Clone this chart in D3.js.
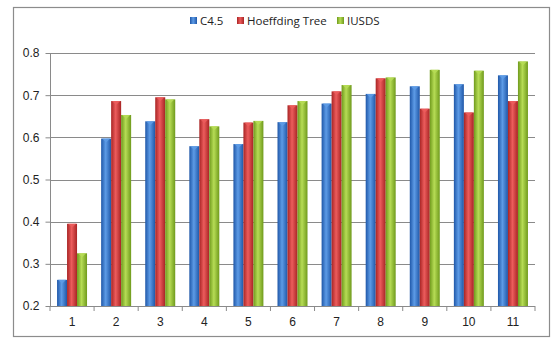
<!DOCTYPE html>
<html><head><meta charset="utf-8">
<script src="https://cdn.jsdelivr.net/npm/d3@7"></script>
<style>body{margin:0;background:#fff;}svg{display:block;font-family:"Open Sans","DejaVu Sans",sans-serif;}</style>
</head><body><svg id="c" width="559" height="346"></svg>
<script>
const categories = ["1","2","3","4","5","6","7","8","9","10","11"];
const seriesNames = ["C4.5","Hoeffding Tree","IUSDS"];
const c45 = [0.262,0.597,0.638,0.579,0.584,0.636,0.680,0.703,0.721,0.726,0.747];
const hoeffding = [0.395,0.686,0.695,0.643,0.635,0.676,0.709,0.740,0.668,0.659,0.686];
const iusds = [0.325,0.653,0.690,0.626,0.639,0.686,0.724,0.742,0.760,0.758,0.780];
const yTicks = [0.2,0.3,0.4,0.5,0.6,0.7,0.8];
const colors = [["#1f57a8","#5d9be6"],["#a82424","#ec5c5c"],["#6f9a1c","#b6dc55"]];

const svg = d3.select("#c");
const values = [c45, hoeffding, iusds];
const m = {l:50, r:535, t:53, b:306};

svg.append("rect").attr("x",13.5).attr("y",7.5).attr("width",536).attr("height",329)
  .attr("fill","#fff").attr("stroke","#8c8c8c").attr("stroke-width",1.2);

const defs = svg.append("defs");
colors.forEach((c,i)=>{
  const g = defs.append("linearGradient").attr("id","g"+i).attr("x1","0").attr("x2","1").attr("y1","0").attr("y2","0");
  g.append("stop").attr("offset","0%").attr("stop-color",c[0]);
  g.append("stop").attr("offset","45%").attr("stop-color",c[1]);
  g.append("stop").attr("offset","100%").attr("stop-color",c[0]);
});

const x = d3.scaleBand().domain(categories).range([m.l,m.r]).paddingInner(0.32).paddingOuter(0.16);
const x1 = d3.scaleBand().domain(d3.range(3)).range([0,x.bandwidth()]);
const y = d3.scaleLinear().domain([0.2,0.8]).range([m.b,m.t]);

// gridlines
svg.append("g").selectAll("line").data(yTicks).join("line")
  .attr("x1",m.l).attr("x2",m.r).attr("y1",d=>Math.round(y(d))+0.5).attr("y2",d=>Math.round(y(d))+0.5)
  .attr("stroke","#8a8a8a").attr("stroke-width",1);

// bars
const groups = svg.append("g").selectAll("g").data(categories).join("g")
  .attr("transform",d=>`translate(${x(d)},0)`);
groups.each(function(cat,ci){
  const g = d3.select(this);
  values.forEach((arr,si)=>{
    const v = arr[ci];
    const bx = x1(si), bw = x1.bandwidth();
    g.append("rect").attr("x",bx).attr("y",y(v)).attr("width",bw).attr("height",y(0.2)-y(v))
      .attr("fill",`url(#g${si})`);
    g.append("path").attr("d",`M${bx+1},${y(v)} L${bx+bw-1},${y(v)} L${bx+bw/2},${y(v)+4} Z`)
      .attr("fill",colors[si][1]).attr("opacity",0.9);
  });
});

// y axis
const ya = svg.append("g").attr("transform",`translate(${m.l+0.5},0)`)
  .call(d3.axisLeft(y).tickValues(yTicks).tickFormat(d3.format(".1f")).tickSize(5).tickPadding(6));
ya.select(".domain").attr("stroke","#8a8a8a").attr("d",`M-5,${m.t}H0V${m.b}H-5`).attr("d",`M0,${m.t}V${m.b+0.5}`);
ya.selectAll(".tick line").attr("stroke","#8a8a8a");
ya.selectAll("text").attr("font-size",12).attr("fill","#222");

// x axis
const xa = svg.append("g").attr("transform",`translate(0,${Math.round(m.b)+0.5})`)
  .call(d3.axisBottom(x).tickSize(0).tickPadding(11));
xa.select(".domain").attr("stroke","#8a8a8a").attr("d",`M${m.l},0H${m.r}`);
xa.selectAll("text").attr("font-size",12).attr("fill","#222");
// category boundary ticks
svg.append("g").selectAll("line").data(d3.range(categories.length+1)).join("line")
  .attr("x1",i=>m.l+i*(m.r-m.l)/categories.length).attr("x2",i=>m.l+i*(m.r-m.l)/categories.length)
  .attr("y1",m.b).attr("y2",m.b+5).attr("stroke","#8a8a8a");

// legend
const legX = [190,237,337];
const leg = svg.append("g").selectAll("g").data(seriesNames).join("g")
  .attr("transform",(d,i)=>`translate(${legX[i]},21)`);
leg.append("rect").attr("x",0).attr("y",-4).attr("width",7).attr("height",7).attr("fill",(d,i)=>`url(#g${i})`);
leg.append("text").attr("x",10).attr("y",4).attr("font-size",11.5).attr("fill","#222").text(d=>d);
</script></body></html>
